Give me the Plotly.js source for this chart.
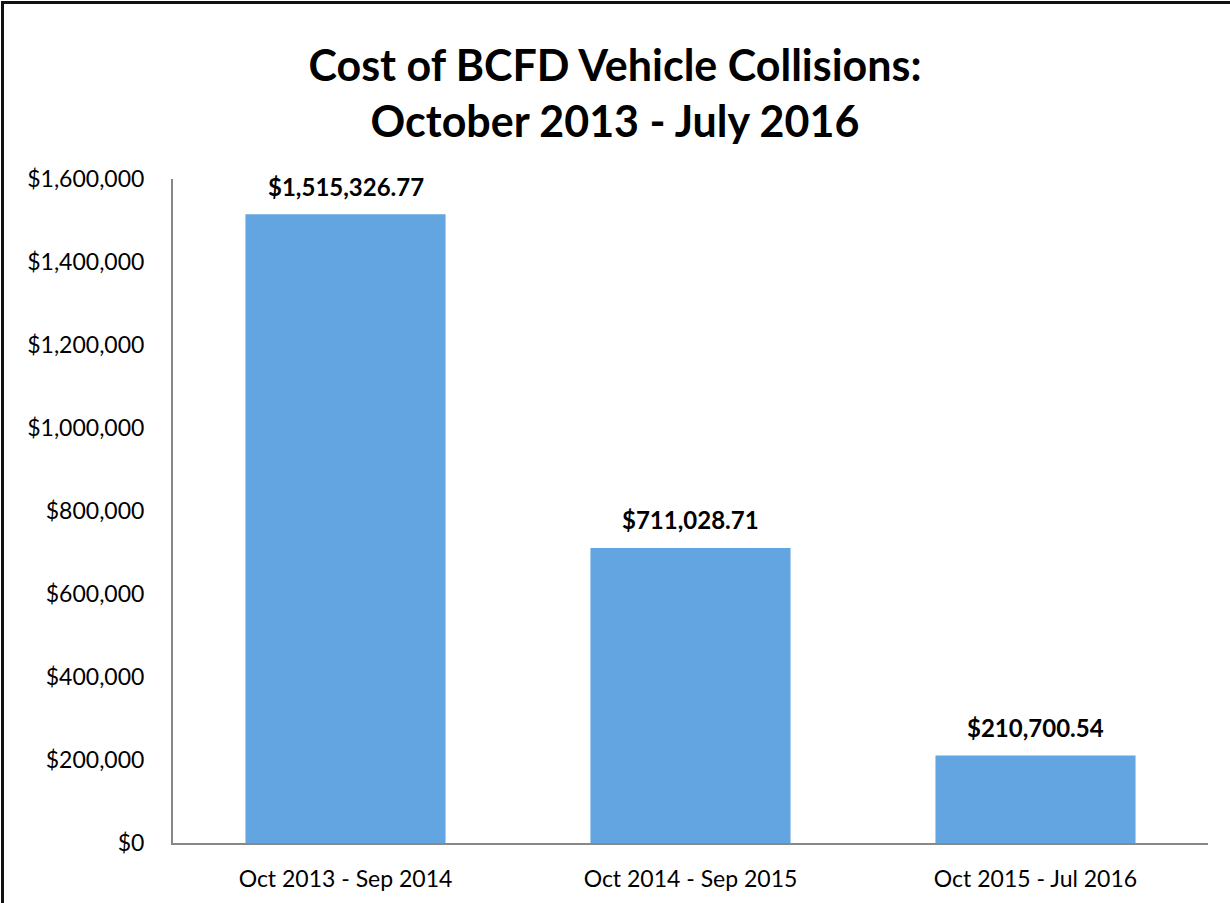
<!DOCTYPE html>
<html>
<head>
<meta charset="utf-8">
<script src="https://cdn.plot.ly/plotly-3.0.1.min.js"></script>
<style>
  html, body { margin: 0; padding: 0; background: #fff; }
  #wrap { position: relative; width: 1230px; height: 903px; overflow: hidden; }
  #frame { position: absolute; left: 1px; top: 1px; width: 1240px; height: 920px;
           border-top: 3px solid #111; border-left: 3px solid #111; box-sizing: border-box; pointer-events: none; z-index: 5; }
  #chart { position: absolute; left: 0; top: 0; width: 1230px; height: 903px; }
</style>
</head>
<body>
<div id="wrap">
  <div id="chart"></div>
  <div id="frame"></div>
</div>
<script>
const categories = ["Oct 2013 - Sep 2014", "Oct 2014 - Sep 2015", "Oct 2015 - Jul 2016"];
const costs = [1515326.77, 711028.71, 210700.54];
const costLabels = ["$1,515,326.77", "$711,028.71", "$210,700.54"];
const yTickValues = [0, 200000, 400000, 600000, 800000, 1000000, 1200000, 1400000, 1600000];
const yTickLabels = ["$0", "$200,000", "$400,000", "$600,000", "$800,000", "$1,000,000", "$1,200,000", "$1,400,000", "$1,600,000"];

const FONT = "Lato, 'Open Sans', sans-serif";

const trace = {
  type: "bar",
  x: categories,
  y: costs,
  marker: { color: "#63a5e0", line: { width: 0 } },
  hoverinfo: "x+y"
};

const annotations = categories.map((c, i) => ({
  x: c, y: costs[i], xref: "x", yref: "y",
  text: "<b>" + costLabels[i] + "</b>",
  showarrow: false, yanchor: "middle", yshift: 28,
  font: { family: FONT, size: 24, color: "#000" }
}));

const layout = {
  width: 1230, height: 903,
  margin: { l: 173, r: 22, t: 179, b: 60 },
  paper_bgcolor: "#ffffff",
  plot_bgcolor: "#ffffff",
  showlegend: false,
  bargap: 0.42,
  title: {
    text: "<b>Cost of BCFD Vehicle Collisions:<br>October 2013 - July 2016</b>",
    font: { family: FONT, size: 43, color: "#000" },
    x: 0.5, xanchor: "center",
    y: 0.910, yanchor: "middle", yref: "container"
  },
  xaxis: {
    type: "category",
    showline: true, linecolor: "#888888", linewidth: 2,
    showgrid: false, zeroline: false, ticks: "",
    ticklabelstandoff: 14,
    tickfont: { family: FONT, size: 23, color: "#000" }
  },
  yaxis: {
    range: [0, 1600000],
    tickvals: yTickValues, ticktext: yTickLabels,
    showline: true, linecolor: "#888888", linewidth: 2,
    showgrid: false, zeroline: false, ticks: "",
    ticklabelstandoff: 22,
    tickfont: { family: FONT, size: 23, color: "#000" }
  },
  annotations: annotations
};

Plotly.newPlot("chart", [trace], layout, { displayModeBar: false, staticPlot: true });
</script>
</body>
</html>
